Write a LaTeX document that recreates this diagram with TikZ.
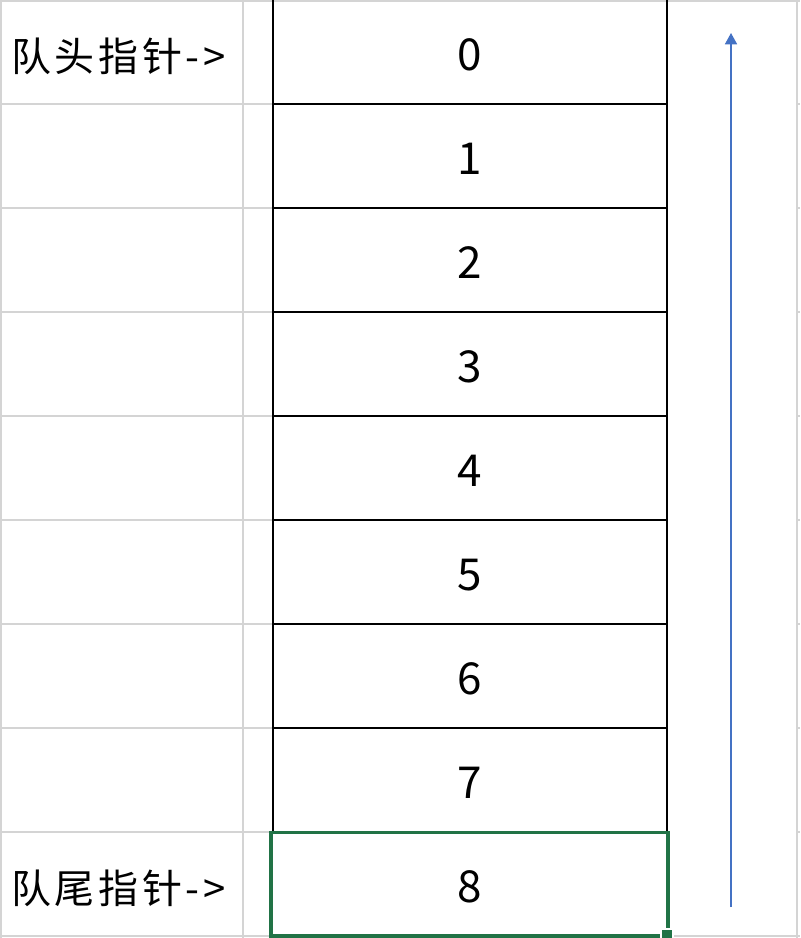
\documentclass[tikz,border=0pt]{standalone}
\usepackage{fontspec}
\setmainfont{Noto Sans CJK SC}
\newfontfamily\labelfont[LetterSpace=9]{Noto Sans CJK SC}
\usetikzlibrary{arrows.meta}
\definecolor{gridgray}{HTML}{D4D4D4}
\definecolor{xlgreen}{HTML}{217346}
\definecolor{arrowblue}{HTML}{4472C4}
\begin{document}
\begin{tikzpicture}[x=0.75pt,y=-0.75pt,
  gridline/.style={draw=gridgray,line width=1.5pt},
  cellline/.style={draw=black,line width=1.5pt},
  digit/.style={font=\fontsize{33}{40}\selectfont,anchor=center,inner sep=0pt},
  ptrlabel/.style={font=\labelfont\fontsize{30}{36}\selectfont,anchor=west,inner sep=0pt}]
\useasboundingbox[fill=white] (0,0) rectangle (800,938);
% gray spreadsheet grid
\foreach \r in {1,104,208,312,416,520,624,728,832,936}{
  \draw[gridline] (0,\r) -- (272,\r);
  \draw[gridline] (797,\r) -- (800,\r);
}
\draw[gridline] (272,1) -- (800,1);
\draw[gridline] (667,936) -- (797,936);
\draw[gridline] (1,0) -- (1,938);
\draw[gridline] (243,0) -- (243,938);
\draw[gridline] (797,0) -- (797,938);
% black queue cells
\draw[cellline] (272.5,0) -- (272.5,832);
\draw[cellline] (667,0) -- (667,832);
\foreach \r in {104,208,312,416,520,624,728}{
  \draw[cellline] (272,\r) -- (667,\r);
}
% digits
\foreach \i in {0,...,8}{
  \node[digit] (d\i) at (470,{55+104*\i}) {\i};
}
% pointer labels
\node[ptrlabel] (head) at (11,56) {队头指针->};
\node[ptrlabel] (tail) at (11,888) {队尾指针->};
% selected cell
\draw[draw=xlgreen,line width=2.8pt] (271,832.5) rectangle (668,936);
\node[draw=white,fill=xlgreen,line width=0.8pt,minimum size=9pt,inner sep=0pt] (handle) at (667,935) {};
% blue arrow
\coordinate (abot) at (731,907);
\coordinate (atop) at (731,33);
\draw[draw=arrowblue,line width=1.3pt,-{Triangle[length=8.5pt,width=9pt]}] (abot) -- (atop);
\end{tikzpicture}
\end{document}
